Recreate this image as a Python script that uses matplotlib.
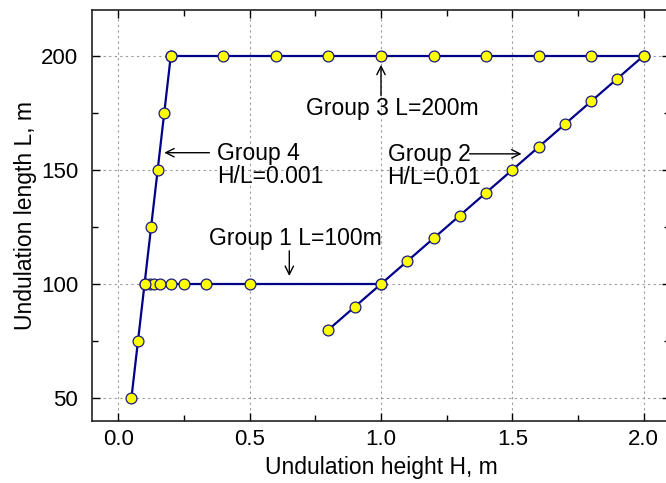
import matplotlib
matplotlib.use('Agg')
import matplotlib.pyplot as plt
from matplotlib.ticker import MultipleLocator, FormatStrFormatter

plt.rcParams['font.family'] = ['Liberation Sans', 'DejaVu Sans']

# Group 1: fixed length L = 100 m
g1_H = [0.1, 0.12, 0.135, 0.16, 0.2, 0.25, 0.333, 0.5, 1.0]
g1_L = [100] * len(g1_H)

# Group 2: fixed ratio H/L = 0.01
g2_H = [0.8, 0.9, 1.0, 1.1, 1.2, 1.3, 1.4, 1.5, 1.6, 1.7, 1.8, 1.9, 2.0]
g2_L = [80, 90, 100, 110, 120, 130, 140, 150, 160, 170, 180, 190, 200]

# Group 3: fixed length L = 200 m
g3_H = [0.2, 0.4, 0.6, 0.8, 1.0, 1.2, 1.4, 1.6, 1.8, 2.0]
g3_L = [200] * len(g3_H)

# Group 4: fixed ratio H/L = 0.001
g4_H = [0.05, 0.075, 0.1, 0.125, 0.15, 0.175, 0.2]
g4_L = [50, 75, 100, 125, 150, 175, 200]

line_col = '#000088'
style = dict(color=line_col, lw=1.6, marker='o', ms=7.8,
             mfc='#ffff00', mec='#1a1a80', mew=0.9)

fig = plt.figure(figsize=(6.66, 4.83), dpi=100)
ax = fig.add_axes([92 / 666, 62 / 483, 578 / 666, 411 / 483])

for H, L in [(g1_H, g1_L), (g3_H, g3_L), (g4_H, g4_L), (g2_H, g2_L)]:
    ax.plot(H, L, zorder=3, **style)

ax.set_xlim(-0.1, 2.1)
ax.set_ylim(40, 220)
ax.xaxis.set_major_locator(MultipleLocator(0.5))
ax.xaxis.set_minor_locator(MultipleLocator(0.25))
ax.yaxis.set_major_locator(MultipleLocator(50))
ax.yaxis.set_minor_locator(MultipleLocator(25))
ax.xaxis.set_major_formatter(FormatStrFormatter('%.1f'))
ax.tick_params(which='both', direction='in', top=True, right=True, labelsize=16)
ax.tick_params(which='major', length=6, width=1)
ax.tick_params(which='minor', length=4, width=1)
ax.tick_params(axis='x', pad=6)
ax.tick_params(axis='y', pad=10)
ax.grid(True, which='major', ls=(0, (2, 3)), color='#999999', lw=0.8)
for s in ax.spines.values():
    s.set_linewidth(1.2)
    s.set_color('#222222')

ax.set_xlabel('Undulation height H, m', fontsize=16.5, labelpad=4)
ax.set_ylabel('Undulation length L, m', fontsize=16.5, labelpad=3)

arrow = dict(arrowstyle='->', color='black', lw=1.0, shrinkA=0, shrinkB=0,
             mutation_scale=15)
fs = 16.5

ax.text(0.716, 177, 'Group 3 L=200m', fontsize=fs, va='center', ha='left')
ax.annotate('', xy=(1.0, 196), xytext=(1.0, 182.5), arrowprops=arrow)

ax.text(0.377, 152, 'Group 4\nH/L=0.001', fontsize=fs, va='center', ha='left',
        linespacing=1.0)
ax.annotate('', xy=(0.175, 157.5), xytext=(0.347, 157.5), arrowprops=arrow)

ax.text(1.025, 151.5, 'Group 2\nH/L=0.01', fontsize=fs, va='center', ha='left',
        linespacing=1.0)
ax.annotate('', xy=(1.535, 157), xytext=(1.337, 157), arrowprops=arrow)

ax.text(0.347, 120, 'Group 1 L=100m', fontsize=fs, va='center', ha='left')
ax.annotate('', xy=(0.651, 103.5), xytext=(0.651, 114.5), arrowprops=arrow)

fig.savefig('out.png', dpi=100)
